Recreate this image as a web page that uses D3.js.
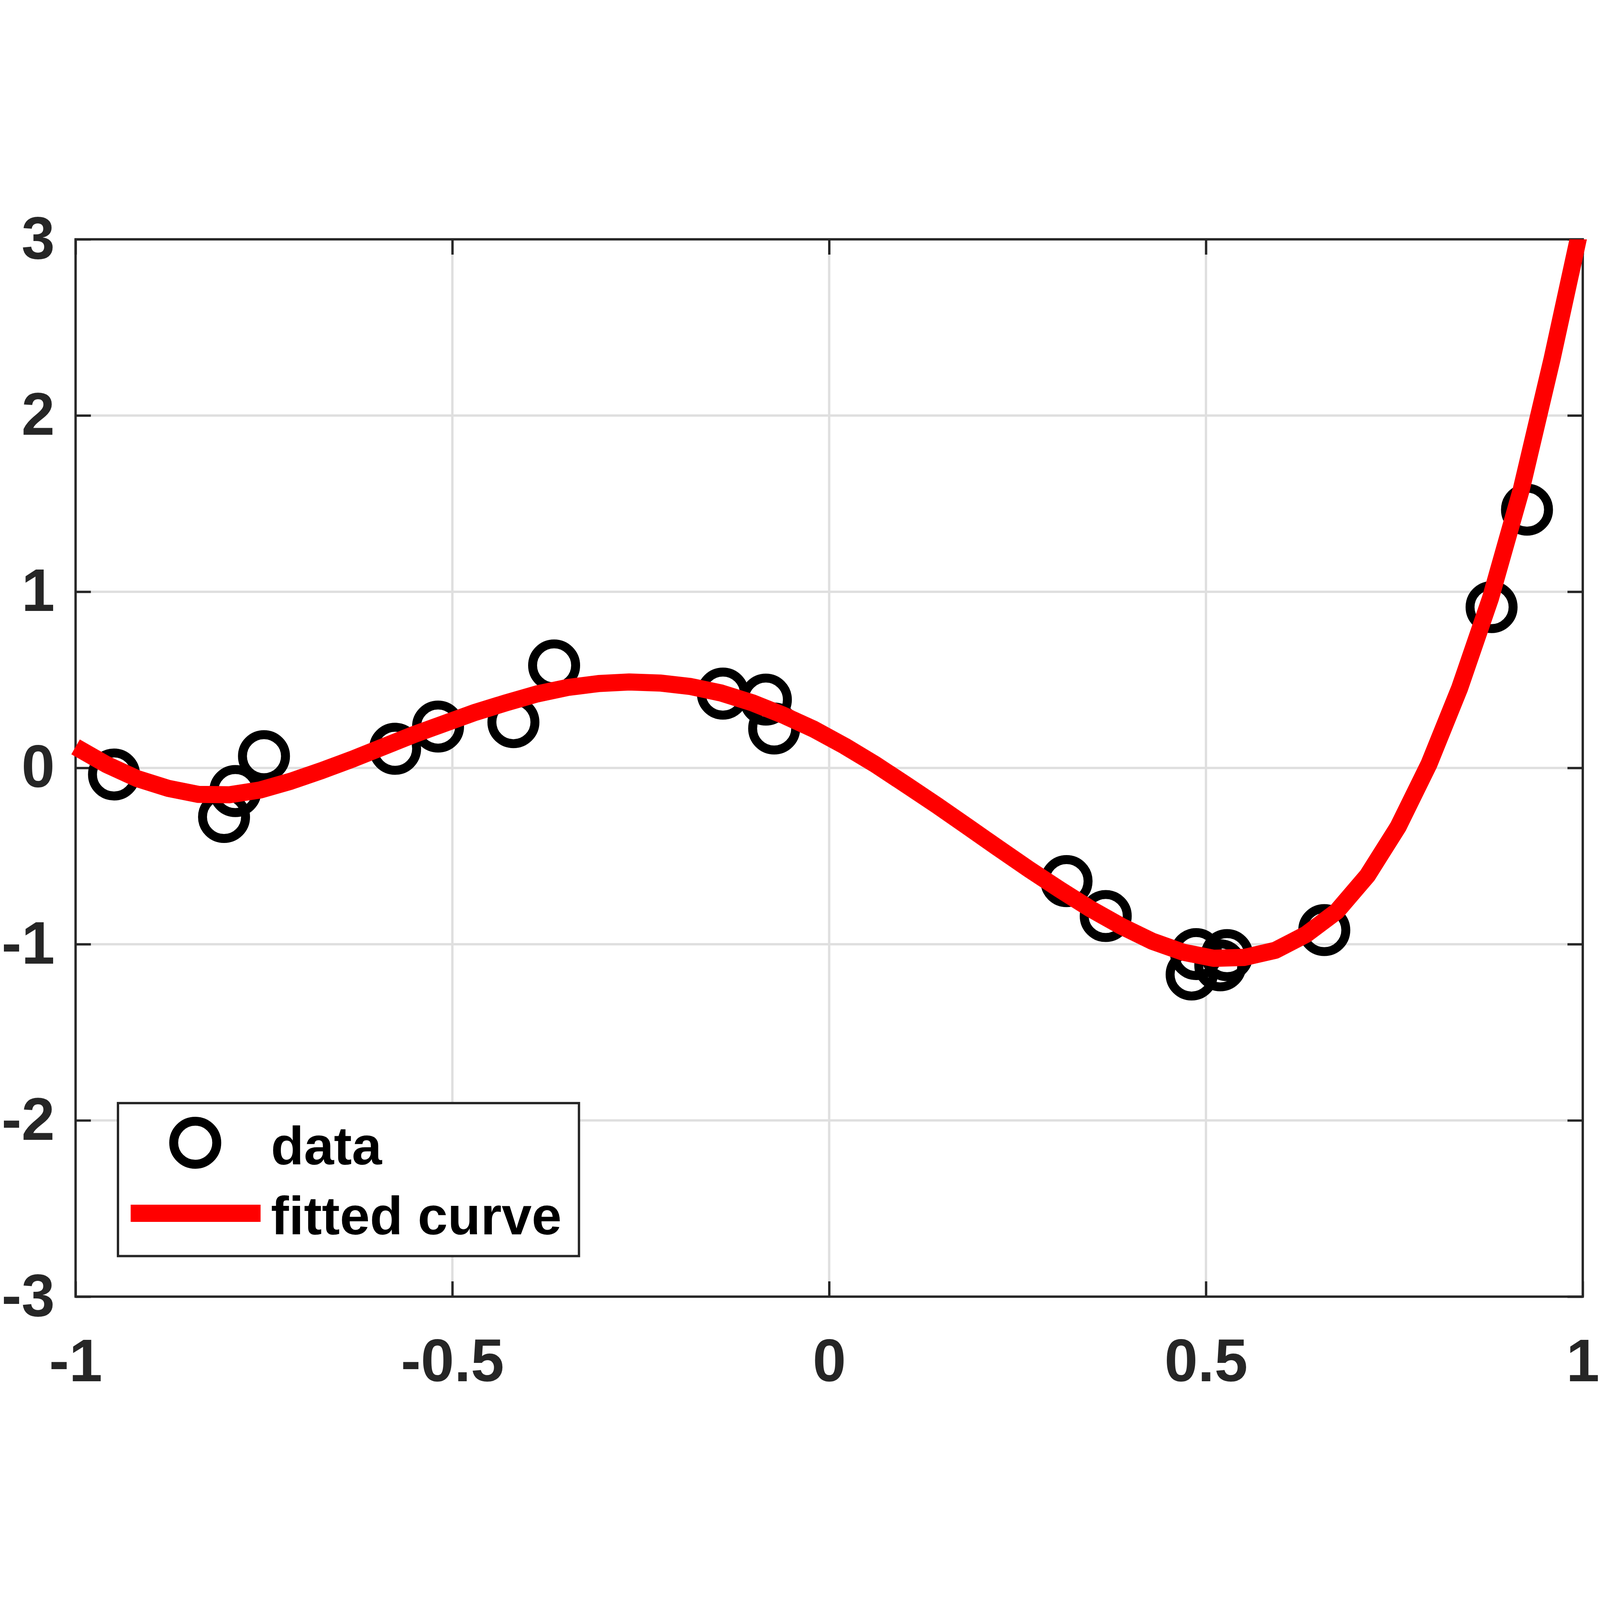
<!DOCTYPE html>
<html>
<head>
<meta charset="utf-8">
<script src="https://cdn.jsdelivr.net/npm/d3@7"></script>
<style>
  html, body { margin: 0; padding: 0; background: #fff; overflow: hidden; }
  text { font-family: "Liberation Sans", Arial, Helvetica, sans-serif; font-weight: bold; }
</style>
</head>
<body>
<div id="chart"></div>
<script>
// tick values
const xTicks = [-1, -0.5, 0, 0.5, 1];
const yTicks = [-3, -2, -1, 0, 1, 2, 3];

// measured data (circles)
const dataX = [-0.949, -0.803, -0.788, -0.750, -0.576, -0.519, -0.419, -0.365, -0.141, -0.084,
               -0.073, 0.315, 0.367, 0.481, 0.487, 0.519, 0.528, 0.657, 0.879, 0.926];
const dataY = [-0.037, -0.278, -0.131, 0.067, 0.109, 0.235, 0.260, 0.582, 0.422, 0.388,
               0.224, -0.642, -0.840, -1.172, -1.056, -1.120, -1.062, -0.920, 0.913, 1.466];

// fitted curve
const curveX = [-1, -0.9592, -0.9184, -0.8776, -0.8367, -0.7959, -0.7551, -0.7143, -0.6735, -0.6327,
                -0.5918, -0.5510, -0.5102, -0.4694, -0.4286, -0.3878, -0.3469, -0.3061, -0.2653, -0.2245,
                -0.1837, -0.1429, -0.1020, -0.0612, -0.0204, 0.0204, 0.0612, 0.1020, 0.1429, 0.1837,
                0.2245, 0.2653, 0.3061, 0.3469, 0.3878, 0.4286, 0.4694, 0.5102, 0.5510, 0.5918,
                0.6327, 0.6735, 0.7143, 0.7551, 0.7959, 0.8367, 0.8776, 0.9184, 0.9592, 1];
const curveY = [0.12, 0.02, -0.06, -0.115, -0.15, -0.152, -0.125, -0.075, -0.015, 0.05,
                0.12, 0.19, 0.253, 0.316, 0.37, 0.42, 0.457, 0.479, 0.488, 0.482,
                0.462, 0.425, 0.37, 0.30, 0.22, 0.125, 0.02, -0.095, -0.212, -0.333,
                -0.455, -0.575, -0.69, -0.80, -0.898, -0.983, -1.045, -1.08, -1.075, -1.035,
                -0.945, -0.814, -0.61, -0.333, 0.022, 0.454, 0.964, 1.58, 2.32, 3.12];

const legendLabels = ["data", "fitted curve"];

const W = 6171, H = 4534;
const margin = {left: 291.5, right: W - 6104.5, top: 104.5, bottom: H - 4182.5};
const iw = W - margin.left - margin.right, ih = H - margin.top - margin.bottom;
const axisColor = "#262626";

// viewBox so the whole figure fits the window whatever its real size
const svg = d3.select("#chart").append("svg")
  .attr("viewBox", `0 0 ${W} ${H}`)
  .style("width", "100vw").style("height", "100vh")
  .style("display", "block")
  .style("background", "#fff");

const g = svg.append("g").attr("transform", `translate(${margin.left},${margin.top})`);

const x = d3.scaleLinear().domain([-1, 1]).range([0, iw]);
const y = d3.scaleLinear().domain([-3, 3]).range([ih, 0]);

// grid
g.append("g").selectAll("line").data(xTicks).enter().append("line")
  .attr("x1", d => x(d)).attr("x2", d => x(d)).attr("y1", 0).attr("y2", ih)
  .attr("stroke", "#dfdfdf").attr("stroke-width", 9);
g.append("g").selectAll("line").data(yTicks).enter().append("line")
  .attr("y1", d => y(d)).attr("y2", d => y(d)).attr("x1", 0).attr("x2", iw)
  .attr("stroke", "#dfdfdf").attr("stroke-width", 9);

// axes: inward ticks on all four sides
const tickLen = 59;
function styleAxis(sel) {
  sel.select(".domain").remove();
  sel.selectAll(".tick line").attr("stroke", axisColor).attr("stroke-width", 9);
  sel.selectAll(".tick text").attr("fill", axisColor).style("font-size", "231px");
}
g.append("g").attr("transform", `translate(0,${ih})`)
  .call(d3.axisBottom(x).tickValues(xTicks).tickSizeInner(-tickLen).tickSizeOuter(0)
        .tickPadding(162).tickFormat(d => String(d)))
  .call(styleAxis);
g.append("g")
  .call(d3.axisLeft(y).tickValues(yTicks).tickSizeInner(-tickLen).tickSizeOuter(0)
        .tickPadding(80).tickFormat(d => String(d)))
  .call(styleAxis);
g.append("g")
  .call(d3.axisTop(x).tickValues(xTicks).tickSizeInner(-tickLen).tickSizeOuter(0).tickFormat(""))
  .call(styleAxis);
g.append("g").attr("transform", `translate(${iw},0)`)
  .call(d3.axisRight(y).tickValues(yTicks).tickSizeInner(-tickLen).tickSizeOuter(0).tickFormat(""))
  .call(styleAxis);

// box
g.append("rect").attr("width", iw).attr("height", ih)
  .attr("fill", "none").attr("stroke", axisColor).attr("stroke-width", 9);

// data circles
const pts = dataX.map((v, i) => ({x: v, y: dataY[i]}));
g.append("g").selectAll("circle").data(pts).enter().append("circle")
  .attr("cx", d => x(d.x)).attr("cy", d => y(d.y)).attr("r", 83)
  .attr("fill", "none").attr("stroke", "#000").attr("stroke-width", 34.5);

// fitted curve, clipped at the top of the axes
svg.append("defs").append("clipPath").attr("id", "clipTop")
  .append("rect").attr("x", -margin.left).attr("y", 0).attr("width", W).attr("height", H);
const curve = curveX.map((v, i) => ({x: v, y: curveY[i]}));
g.append("path").datum(curve)
  .attr("clip-path", "url(#clipTop)")
  .attr("d", d3.line().x(d => x(d.x)).y(d => y(d.y)))
  .attr("fill", "none").attr("stroke", "#ff0000").attr("stroke-width", 66)
  .attr("stroke-linejoin", "round");

// legend
const lg = svg.append("g");
lg.append("rect").attr("x", 455).attr("y", 3436).attr("width", 1778).attr("height", 590)
  .attr("fill", "#fff").attr("stroke", axisColor).attr("stroke-width", 9);
lg.append("circle").attr("cx", 753).attr("cy", 3589).attr("r", 83)
  .attr("fill", "none").attr("stroke", "#000").attr("stroke-width", 34.5);
lg.append("line").attr("x1", 504).attr("x2", 1005).attr("y1", 3861).attr("y2", 3861)
  .attr("stroke", "#ff0000").attr("stroke-width", 66);
lg.selectAll("text.lab").data(legendLabels).enter().append("text")
  .attr("class", "lab")
  .attr("x", 1045).attr("y", (d, i) => i === 0 ? 3673 : 3942)
  .attr("fill", "#000").style("font-size", "208px")
  .text(d => d);
</script>
</body>
</html>
